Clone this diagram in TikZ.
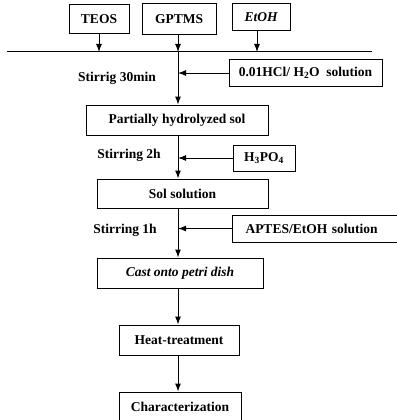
\documentclass[tikz,border=0pt]{standalone}
\usepackage{fontspec}
\setmainfont{Liberation Serif}
\usetikzlibrary{arrows.meta,positioning,calc}
\tikzset{
stepbox/.style={draw,line width=1pt,minimum height=29pt,inner xsep=6pt,align=center},
cond/.style={inner sep=0pt,anchor=center},
flow/.style={-{Latex[length=8pt,width=6pt]},line width=1pt},
bus/.style={line width=1pt}
}

\begin{document}
\begin{tikzpicture}[x=1pt,y=-1pt,font=\fontsize{13.5}{15}\selectfont\bfseries]
\useasboundingbox (0,0) rectangle (396,420);
% raw materials
\node[stepbox,minimum width=60pt,minimum height=29pt](teos) at (99,19){TEOS};
\node[stepbox,minimum width=74pt,minimum height=31pt](gptms) at (179,19){GPTMS};
\node[stepbox,minimum width=58pt,minimum height=27pt](etoh) at (261,17){\itshape EtOH};
\coordinate(busL) at (7,52);\coordinate(busR) at (372,52);
\coordinate(j1) at (99,52);\coordinate(j2) at (178,52);\coordinate(j3) at (257,52);
\draw[bus](busL)--(busR);
% main line
\node[stepbox,minimum width=182pt,minimum height=30pt](partial) at (177,120){Partially hydrolyzed sol};
\node[stepbox,minimum width=171pt,minimum height=29pt](sol) at (182.5,193.5){Sol solution};
\node[stepbox,minimum width=166pt,minimum height=30pt](cast) at (180,273){\itshape Cast onto petri dish};
\node[stepbox,minimum width=120pt,minimum height=30pt](heat) at (179,340){Heat-treatment};
\node[stepbox,minimum width=122pt,minimum height=30pt](charac) at (180,407){Characterization};
% additions
\node[stepbox,minimum width=153pt,minimum height=26pt](hcl) at (305.5,73){0.01HCl/ H\textsubscript{2}O\ \ solution};
\node[stepbox,minimum width=62pt,minimum height=26pt](hpo) at (264,158){H\textsubscript{3}PO\textsubscript{4}};
\node[stepbox,anchor=west,minimum height=27pt,text width=160pt,align=left,inner xsep=13pt](aptes) at (232,228.5){APTES/EtOH solution};
% stirring conditions
\node[cond](c1) at (117,78){Stirrig 30min};
\node[cond](c2) at (129,155){Stirring 2h};
\node[cond](c3) at (125,230){Stirring 1h};
\draw[flow](teos)--(j1);\draw[flow](gptms.south-|j2)--(j2);\draw[flow](etoh.south-|j3)--(j3);
\draw[flow](j2)--(j2|-partial.north);
\draw[flow](partial.south-|j2)--(j2|-sol.north);
\draw[flow](sol.south-|j2)--(j2|-cast.north);
\draw[flow](cast.south-|j2)--(j2|-heat.north);
\draw[flow](heat.south-|j2)--(j2|-charac.north);
\draw[flow](hcl.west)--(hcl.west-|j2);
\draw[flow](hpo.west)--(hpo.west-|j2);
\draw[flow](aptes.west)--(aptes.west-|j2);
\end{tikzpicture}
\end{document}
